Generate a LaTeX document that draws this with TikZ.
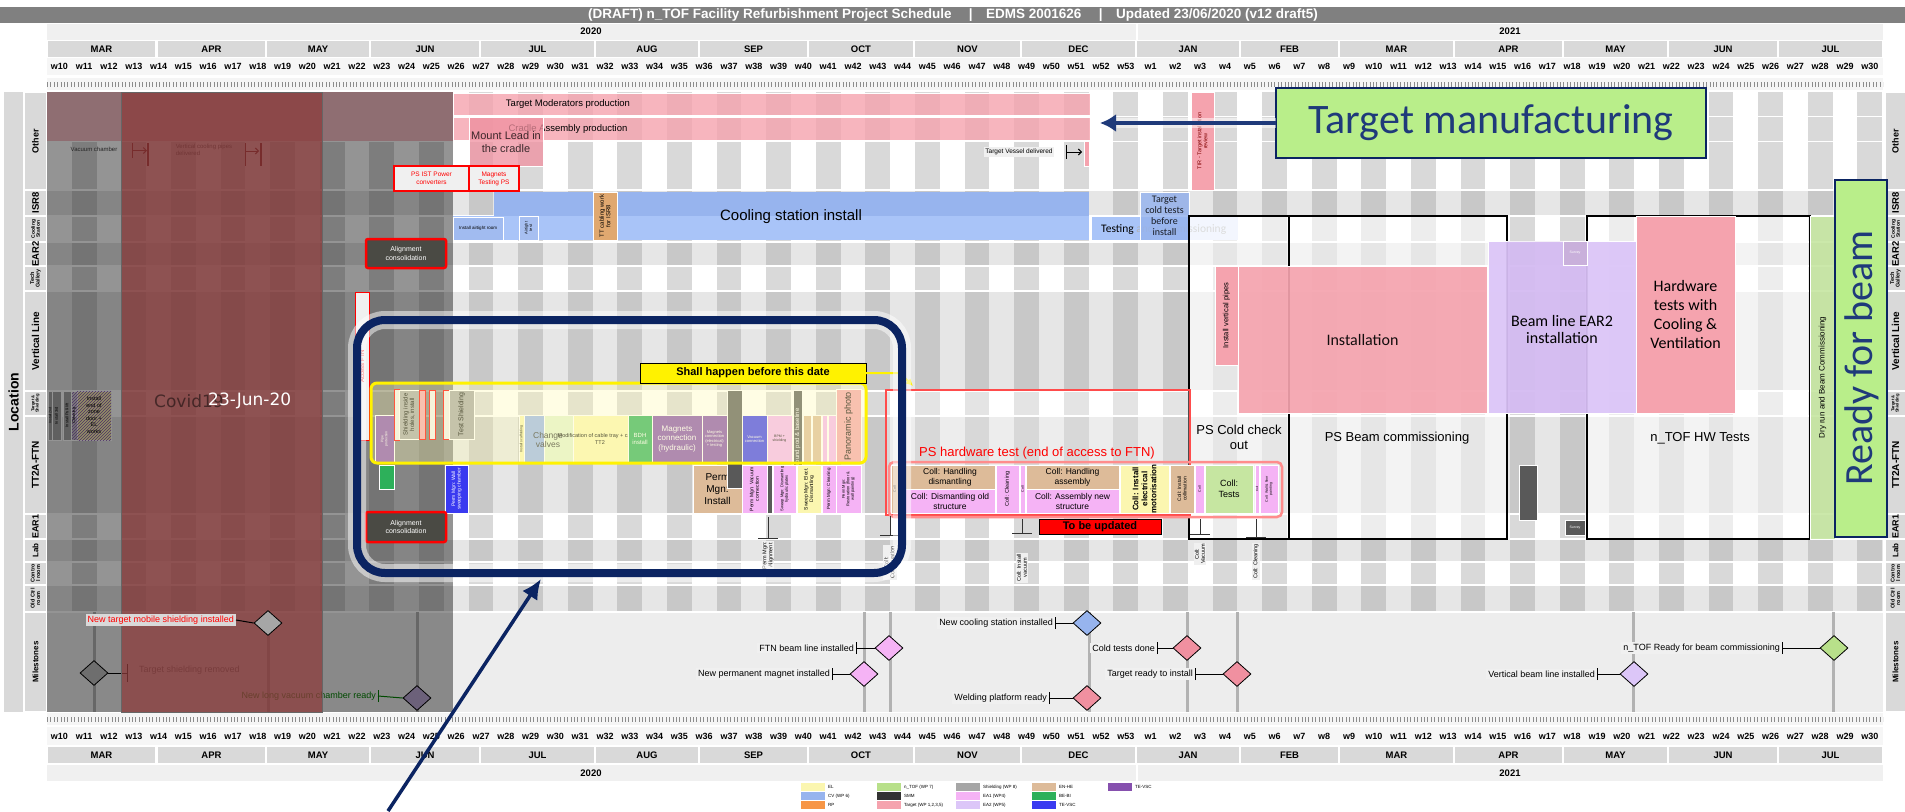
\documentclass[tikz,border=0pt]{standalone}
\usepackage{fontspec}
\setmainfont{Liberation Sans}
\newfontfamily\calfont{Carlito}
\newfontfamily\dvfont{DejaVu Sans}
\usetikzlibrary{shapes.geometric,arrows.meta,patterns}
\definecolor{navy}{HTML}{1F3A7A}
\definecolor{navyd}{HTML}{0B2462}
\definecolor{titlegray}{HTML}{808080}
\definecolor{hdrgray}{HTML}{D9D9D9}
\definecolor{hdrlight}{HTML}{F0F0F0}
\definecolor{stw}{HTML}{D9D9D9}
\definecolor{gba}{HTML}{E6E6E6}
\definecolor{gbb}{HTML}{C8C8C8}
\definecolor{pinkT}{HTML}{F5A3AE}
\definecolor{pinkD}{HTML}{F090A0}
\definecolor{cvblue}{HTML}{97B4EE}
\definecolor{cvlight}{HTML}{A9C4F8}
\definecolor{ea1}{HTML}{F5B3F5}
\definecolor{ea2}{HTML}{DCC6F8}
\definecolor{enhe}{HTML}{DDBB99}
\definecolor{tevsc}{HTML}{3A3AF0}
\definecolor{purp}{HTML}{8650AE}
\definecolor{bebi}{HTML}{2DB05A}
\definecolor{elyel}{HTML}{FBF6B0}
\definecolor{ntof}{HTML}{B8E08A}
\definecolor{callgreen}{HTML}{B9EE8A}
\definecolor{shield}{HTML}{A6A6A6}
\definecolor{dkbox}{HTML}{4A4A44}
\definecolor{rp}{HTML}{F79646}
\definecolor{ttcab}{HTML}{E0A870}
\definecolor{covred}{RGB}{140,60,60}
\newcommand{\fsz}[2]{\fontsize{#1}{#2}\selectfont}
\newcommand{\gbox}[7]{\node[gb,#6,minimum width={(#4)-(#2)},minimum height={(#5)-(#3)}] (#1) at ({((#2)+(#4))/2},{((#3)+(#5))/2}) {#7};}
\newcommand{\rbox}[8]{\node[gb,#6,minimum width={(#4)-(#2)},minimum height={(#5)-(#3)}] (#1) at ({((#2)+(#4))/2},{((#3)+(#5))/2}) {};
  \node[rot,#7] (#1t) at (#1.center) {#8};}
\begin{document}
\begin{tikzpicture}[x=1pt,y=-1pt,
  gb/.style={rectangle,inner sep=0pt,outer sep=0pt,draw=white,line width=0.6pt,align=center,font=\fsz{7}{8}},
  rot/.style={rotate=90,inner sep=0pt,align=center,font=\fsz{5}{6}},
  wk/.style={font=\bfseries\fsz{9}{9},inner sep=0pt},
  mo/.style={font=\bfseries\fsz{9.5}{10},inner sep=0pt},
  msl/.style={fill=hdrlight,inner sep=2pt,font=\fsz{9}{9},anchor=east},
  msd/.style={diamond,draw=black,line width=0.8pt,minimum width=28,minimum height=25,inner sep=0pt},
  mk/.style={line width=1pt},
  lgs/.style={rectangle,minimum width=24,minimum height=7.5,inner sep=0pt},
  lgt/.style={anchor=west,font=\fsz{4.5}{5},inner sep=0pt},
  alc/.style={fill=dkbox,draw=red,line width=2.5pt,rounded corners=2,text=white,font=\fsz{7}{8.5}},
  cpl/.style={fill=hdrlight,inner sep=1pt,font=\fsz{5.5}{6},rotate=90,anchor=east,align=center}]
\useasboundingbox (0,0) rectangle (1905,811);
\fill[white] (0,0) rectangle (1905,811);
% ---------------- title and headers
\fill[titlegray] (0,7) rectangle (1905,23);
\node[font=\bfseries\fsz{13.5}{14},text=white,inner sep=0] (title) at (953,15.5) {(DRAFT) n\_TOF Facility Refurbishment Project Schedule \quad|\quad EDMS 2001626 \quad|\quad Updated 23/06/2020 (v12 draft5)};
\fill[hdrlight] (47,23.5) rectangle (1136,39.5);
\fill[hdrlight] (1138,23.5) rectangle (1883,39.5);
\node[mo] (ty1) at (591,31.5) {2020};
\node[mo] (ty2) at (1510,31.5) {2021};
\fill[hdrlight] (47,765) rectangle (1136,781);
\fill[hdrlight] (1138,765) rectangle (1883,781);
\node[mo] (by1) at (591,773) {2020};
\node[mo] (by2) at (1510,773) {2021};
\foreach \a/\b/\m [count=\k] in {47/156/MAR,157/266/APR,266/370/MAY,370/480/JUN,480/595/JUL,595/699/AUG,699/808/SEP,808/914/OCT,914/1021/NOV,1021/1136/DEC,1136/1240/JAN,1240/1339/FEB,1339/1454/MAR,1454/1563/APR,1563/1668/MAY,1668/1778/JUN,1778/1883/JUL}{
  \fill[hdrgray] ({\a+0.8},40.5) rectangle ({\b-0.8},57);
  \node[mo] (tm\k) at ({(\a+\b)/2},49) {\m};
  \fill[hdrgray] ({\a+0.8},747) rectangle ({\b-0.8},763);
  \node[mo] (bm\k) at ({(\a+\b)/2},755) {\m};
}
\fill[hdrlight!60] (47,58) rectangle (1883,75);
\fill[hdrlight!60] (47,727) rectangle (1883,745);
\foreach \i in {0,...,73}{
  \pgfmathtruncatemacro{\wk}{\i<44 ? \i+10 : \i-43}
  \node[wk] (tw\i) at ({47+24.8*\i+12.4},66.5) {w\wk};
  \node[wk] (bw\i) at ({47+24.8*\i+12.4},736.5) {w\wk};
}
\fill[hdrlight!70] (47,78) rectangle (1883,90);
\fill[hdrlight!70] (47,713) rectangle (1883,725);
\draw[black!45,line width=5pt,dash pattern=on 0.8pt off 2.6pt] (47,84) -- (1883,84);
\draw[black!45,line width=5pt,dash pattern=on 0.8pt off 2.6pt] (47,719) -- (1883,719);
% ---------------- background stripes
\foreach \ya/\yb in {92/190,216/242,266/291,391/416,514/539,562/585}{
  \fill[white] (47,\ya) rectangle (1883,\yb);
  \foreach \i in {1,3,...,73}{\fill[stw] ({47+24.8*\i},\ya) rectangle ({47+24.8*(\i+1)},\yb);}
}
\foreach \ya/\yb in {190/216,242/266,291/391,416/514,539/562,585/612}{
  \fill[gba] (47,\ya) rectangle (1883,\yb);
  \foreach \i in {1,3,...,73}{\fill[gbb] ({47+24.8*\i},\ya) rectangle ({47+24.8*(\i+1)},\yb);}
}
\fill[black!7] (47,612) rectangle (1883,712);
% ---------------- row labels
\fill[hdrgray] (4,92) rectangle (23,712);
\node[rot,font=\bfseries\fsz{14}{14}] (loc) at (13.5,402) {Location};
\foreach \ya/\yb/\t/\f [count=\k] in {92/190/Other/9,190/216/ISR8/9.5,216/242/{Cooling\\Station}/5,242/266/EAR2/9.5,266/291/{Tech\\Gallery}/5.5,291/391/Vertical Line/10,391/416/{Target \&\\Shielding}/4.2,416/514/TT2A-FTN/10,514/539/EAR1/9,539/562/Lab/8,562/585/{Contro\\l room}/5.5,585/612/{Old Ctrl\\room}/5.5,612/712/Milestones/8}{
  \fill[hdrgray] (25,{\ya+0.8}) rectangle (46,{\yb-0.8});
  \fill[hdrgray] (1886,{\ya+0.8}) rectangle (1905,{\yb-0.8});
  \node[rot,font=\bfseries\fsz{\f}{\f}] (ll\k) at (35.5,{(\ya+\yb)/2}) {\t};
  \node[rot,font=\bfseries\fsz{\f}{\f}] (rl\k) at (1895.5,{(\ya+\yb)/2}) {\t};
}
\foreach \y in {190,216,242,266,291,391,416,514,539,562,585,612}{\draw[white,line width=1.2pt] (47,\y) -- (1883,\y);}
\draw[white,line width=1pt] (47,116.5) -- (1883,116.5);
\draw[white,line width=1pt] (47,141) -- (1883,141);
% ---------------- items under covid overlay
\fill[pinkT!70] (47,92) rectangle (453,141);
\node[font=\fsz{6}{6},text=black!75] (vacch) at (94,149) {Vacuum chamber};
\draw[mk,red!40!black] (132,143) -- (132,158);
\draw[mk,red!40!black,-{Straight Barb[length=3pt]}] (132,150.5) -- (147,150.5);
\draw[line width=2pt,red!40!black] (148,143) -- (148,166);
\node[font=\fsz{6}{6.5},text=black!75,align=left] (vcp) at (204,150) {Vertical cooling pipes\\delivered};
\draw[mk,red!40!black] (245,143) -- (245,166);
\draw[mk,red!40!black,-{Straight Barb[length=3pt]}] (245,151) -- (259,151);
\draw[line width=2pt,red!40!black] (261,143) -- (261,166);
\rbox{f1}{48}{391}{52}{440}{fill=shield}{font=\fsz{3.5}{4}}{Install 2nd}
\rbox{f2}{52}{391}{61}{440}{fill=shield}{font=\fsz{4}{4.5}}{Install 3rd}
\rbox{f3}{63}{391}{71}{440}{fill=shield}{font=\fsz{4}{4.5}}{Install Pull-lift}
\rbox{f4}{71}{391}{77}{440}{pattern=north east lines,pattern color=purp}{font=\fsz{4}{4.5}}{Cleaning}
\gbox{f5}{77}{391}{111}{440}{fill=elyel,font=\fsz{5.5}{6.5}}{}
\fill[pattern=north east lines,pattern color=purp] (77,391) rectangle (111,440);
\node[font=\fsz{5.5}{6.5},align=center,inner sep=0] (f5t) at (94,415) {Install\\end of\\zone\\door +\\EL\\works};
\foreach \x in {94,268,417,864,890,1089,1187,1237,1633,1833}{\draw[black!30,line width=3pt] (\x,612) -- (\x,712);}
\node[msd,fill=black!25] (m2d) at (94,673) {};
\node[font=\fsz{9}{9},text=black!60,anchor=west,inner sep=0] (m2l) at (139,670) {Target shielding removed};
\draw[mk] (m2d.east) -- (127,673);
\draw[mk] (127,664) -- (127,682);
\node[msd,fill=ea2!85!black] (m3d) at (417,698) {};
\node[msl,text=green!50!black,fill=none] (m3l) at (378,696) {New long vacuum chamber ready};
\draw[mk,green!50!black] (m3l.east) -- (m3d.west);
\draw[mk,green!50!black] ([yshift=-6pt]m3l.east) -- ([yshift=6pt]m3l.east);
% ---------------- covid overlay
\fill[black,fill opacity=0.42] (47,92) rectangle (453,712);
\fill[covred,fill opacity=0.75] (121,92) rectangle (322,712);
\draw[black!60,line width=0.8pt] (121,92) rectangle (322,712);
\node[font=\dvfont\fsz{17}{17},text=black,text opacity=0.5,anchor=west,inner sep=0] (cov) at (154,401) {Covid19};
\node[font=\dvfont\fsz{17}{17},text=white,anchor=west,inner sep=0] (covd) at (208,401) {23-Jun-20};
% ---------------- Other row
\gbox{tmp}{453}{93}{1090}{115.5}{fill=pinkT,fill opacity=0.8}{}
\node[font=\fsz{9.5}{10},inner sep=0] (tmpt) at (568,104) {Target Moderators production};
\gbox{cap}{453}{117.5}{1090}{140.5}{fill=pinkT,fill opacity=0.8}{}
\node[font=\fsz{9.5}{10},inner sep=0] (capt) at (568,129) {Cradle Assembly production};
\gbox{mlc}{469}{117.5}{543}{166}{fill=pinkD,fill opacity=0.75,font=\fsz{11}{13}}{Mount Lead in\\the cradle}
\node[fill=hdrlight,font=\fsz{6.5}{7},inner sep=1.5pt] (tvd) at (1019,152) {Target Vessel delivered};
\draw[mk] (1066,145) -- (1066,159);
\draw[mk,-{Straight Barb[length=3pt]}] (1066,152) -- (1082,152);
\gbox{tvb}{1084}{141}{1089}{166}{fill=pinkT}{}
\gbox{psi}{394}{166}{469}{191}{fill=hdrlight,draw=red,line width=1.2pt,text=red,font=\fsz{6.5}{8}}{PS IST Power\\converters}
\gbox{mts}{469}{166}{519}{191}{fill=hdrlight,draw=red,line width=1.2pt,text=red,font=\fsz{6.5}{8}}{Magnets\\Testing PS}
\rbox{tir}{1191}{92}{1214}{190}{fill=pinkT}{text=red!50!black,font=\fsz{5.5}{6}}{TIR - Target installation\\review}
% ---------------- ISR8 / Cooling station
\gbox{csa}{494}{192}{1089}{216}{fill=cvblue,draw=none}{}
\gbox{csb}{453}{216}{1089}{240}{fill=cvlight,draw=none}{}
\node[font=\fsz{15}{15},inner sep=0] (cst) at (791,217) {Cooling station install};
\gbox{iar}{453}{217}{503}{240}{fill=cvblue!90,font=\fsz{4.5}{5}}{Install airtight room}
\rbox{att}{519}{216}{538}{240}{fill=cvblue!85}{font=\fsz{4}{4.5}}{Airtight\\test}
\rbox{ttc}{593}{192}{617}{240}{fill=ttcab}{font=\fsz{6}{6.5}}{TT cabling work\\for ISR8}
\gbox{tst}{1091}{216}{1189}{240}{fill=cvlight}{}
\gbox{tstl}{1189}{216}{1238}{240}{fill=cvlight!30,draw=none}{}
\node[anchor=west,font=\calfont\fsz{11.5}{12},inner sep=0] (tstt) at (1101,229) {Testing \textcolor{black!30}{and commissioning}};
\gbox{tct}{1140}{192}{1189}{240}{fill=cvblue,fill opacity=0.85,font=\calfont\fsz{10}{11}}{Target\\cold tests\\before\\install}
% ---------------- EAR2 / vertical line
\gbox{al1}{366}{239}{446}{268}{alc}{Alignment\\consolidation}
\rbox{afn}{355}{292}{369}{440}{fill=hdrlight,draw=red,line width=1pt}{text=red,font=\fsz{6}{6}}{Access FTN}
% ---------------- right frames
\node[gb,draw=black,line width=1.2pt,fill=white,fill opacity=0.55,minimum width=318,minimum height=323] (fr1) at (1348,377.5) {};
\draw[line width=1.2pt] (1289,216) -- (1289,539);
\node[gb,draw=black,line width=1.2pt,fill=white,fill opacity=0.55,minimum width=223,minimum height=323] (fr2) at (1698.5,377.5) {};
\node[font=\fsz{13}{15},align=center,inner sep=0] (pscc) at (1239,437) {PS Cold check\\out};
\node[font=\fsz{13}{15},inner sep=0] (psbc) at (1397,438) {PS Beam commissioning};
\node[font=\fsz{13}{15},inner sep=0] (nhw) at (1700,438) {n\_TOF HW Tests};
\rbox{ivp}{1215}{266}{1238}{365}{fill=pinkT}{font=\fsz{7.5}{8}}{Install vertical pipes}
\gbox{ins}{1238}{266}{1487}{413}{fill=pinkT,fill opacity=0.92,font=\calfont\fsz{16}{17}}{Installation}
\gbox{bl2}{1488}{241}{1636}{413}{fill=ea2,fill opacity=0.95}{}
\fill[purp,fill opacity=0.08] (1507,241) rectangle (1587,413);
\node[font=\calfont\fsz{16}{17},align=center,inner sep=0] (bl2t) at (1562,329) {Beam line EAR2\\installation};
\gbox{sv1}{1563}{241}{1587}{265}{fill=purp!45,font=\fsz{3.5}{4},text=white}{Survey}
\gbox{hwt}{1636}{216}{1735}{413}{fill=pinkT,font=\calfont\fsz{16}{19}}{Hardware\\tests with\\Cooling \&\\Ventilation}
\rbox{dry}{1810}{216}{1835}{539}{fill=ntof!80,fill opacity=0.9}{font=\fsz{8}{8}}{Dry run and Beam Commissioning}
\gbox{dkv}{1519}{465}{1537}{520}{fill=black!65}{}
\gbox{sv2}{1565}{520}{1585}{535}{fill=black!65,font=\fsz{3.5}{4},text=white}{Survey}
% ---------------- PS hardware test and collimator
\node[gb,draw=red!70,line width=1.2pt,fill=white,fill opacity=0.3,minimum width=304,minimum height=125] (psh) at (1038,452.5) {};
\node[text=red,font=\fsz{13}{14},inner sep=0] (psht) at (1037,453) {PS hardware test (end of access to FTN)};
\rbox{c1}{891}{465}{898}{513}{fill=enhe}{font=\fsz{3.5}{4}}{Coll}
\gbox{c2}{905}{465}{995}{489}{fill=enhe,font=\fsz{8.5}{10}}{Coll: Handling\\dismantling}
\gbox{c3}{905}{489}{995}{513}{fill=ea1,font=\fsz{8.5}{10}}{Coll: Dismantling old\\structure}
\rbox{c4}{996}{465}{1019}{513}{fill=ea1}{font=\fsz{5.5}{6}}{Coll: Cleaning}
\rbox{c5}{1020}{465}{1025}{513}{fill=ea1}{font=\fsz{3.5}{4}}{Coll}
\gbox{c6}{1026}{465}{1119}{489}{fill=enhe,font=\fsz{8.5}{10}}{Coll: Handling\\assembly}
\gbox{c7}{1026}{489}{1119}{513}{fill=ea1,font=\fsz{8.5}{10}}{Coll: Assembly new\\structure}
\rbox{c8}{1120}{465}{1169}{513}{fill=elyel}{font=\bfseries\fsz{8}{9}}{Coll: Install\\electrical\\motorisation}
\rbox{c9}{1170}{465}{1194}{513}{fill=enhe}{font=\fsz{5}{5.5}}{Coll: Install\\collimation}
\rbox{c10}{1195}{465}{1204}{513}{fill=ea1}{font=\fsz{3.5}{4}}{Coll}
\gbox{c11}{1205}{465}{1253}{513}{fill=ntof!80,font=\fsz{9}{11}}{Coll:\\Tests}
\rbox{c12}{1255}{465}{1259}{513}{fill=ea1}{font=\fsz{3}{3.5}}{Coll}
\rbox{c13}{1260}{465}{1278}{513}{fill=ea1}{font=\fsz{3.5}{4}}{Coll: Wall \& floor\\painting}
\node[gb,draw=red!45,line width=2.5pt,rounded corners=5,minimum width=393,minimum height=55] (cbox) at (1085.5,489.5) {};
\gbox{tbu}{1039}{519}{1161}{534}{fill=red,draw=black,line width=0.8pt,font=\bfseries\fsz{11}{11}}{To be updated}
% markers below
\foreach \x/\ya/\yb [count=\k] in {890/516/535,1022/519/533,1200/519/534,1256/519/537,768/517/538}{
  \draw[mk,black!80] (\x,\ya) -- (\x,\yb);
  \draw[mk,black!80] ({\x-10},\yb) -- ({\x+10},\yb);
}
\node[cpl] (cl1) at (890,545) {Coll:\\Configuration};
\node[cpl] (cl2) at (1022,553) {Coll: Install\\vacuum};
\node[cpl] (cl3) at (1200,543) {Coll:\\Vacuum};
\node[cpl] (cl4) at (1256,543) {Coll: Cleaning};
\node[cpl] (cl5) at (768,541) {Perm Mgn:\\Alignment};
% ---------------- TT2A items
\rbox{i1}{375}{415}{394}{463}{fill=purp}{text=white,font=\fsz{3.5}{4}}{Pipe\\protection}
\gbox{i2}{394}{389}{399}{440}{fill=hdrlight,draw=red,line width=0.8pt}{}
\rbox{i3}{399}{390}{419}{439}{fill=shield}{font=\fsz{6}{6.5}}{Shielding inside\\holes, install}
\gbox{i4}{419}{390}{425}{439}{fill=pinkT,draw=red,line width=0.8pt}{}
\gbox{i5}{429}{390}{435}{439}{fill=hdrlight,draw=red,line width=0.8pt}{}
\gbox{i6}{443}{390}{449}{439}{fill=hdrlight,draw=red,line width=0.8pt}{}
\rbox{i7}{449}{390}{474}{439}{fill=shield}{font=\fsz{7}{7}}{Test Shielding}
\rbox{i8}{519}{415}{524}{463}{fill=elyel}{font=\fsz{3.5}{4}}{Install scaffolding}
\gbox{i9}{524}{415}{544}{463}{fill=cvblue}{}
\gbox{i10}{544}{415}{573}{463}{fill=ntof!40}{}
\gbox{i11}{573}{415}{628}{463}{fill=elyel}{}
\node[font=\fsz{8.5}{9},align=center,inner sep=0,text=black!80] (i9t) at (548,440) {Change\\valves};
\node[font=\fsz{5.5}{6.5},align=center,inner sep=0] (i11t) at (600,439) {Modification of cable tray + cabling\\TT2};
\gbox{i12}{628}{415}{652}{463}{fill=bebi,text=white,font=\fsz{6}{7}}{BDH\\install}
\gbox{i13}{652}{415}{702}{463}{fill=purp,text=white,font=\fsz{8}{9.5}}{Magnets\\connection\\(hydraulic)}
\gbox{i14}{702}{415}{727}{463}{fill=purp,text=white,font=\fsz{4}{4.5}}{Magnets\\connection\\(electrical)\\+ testing}
\gbox{j3}{693}{465}{742}{513}{fill=enhe,font=\fsz{10}{12}}{Perm\\Mgn:\\Install}
\gbox{i15}{727}{390}{742}{488}{fill=black!65}{}
\gbox{i16}{742}{415}{767}{463}{fill=tevsc,text=white,font=\fsz{4}{4.5}}{Vacuum\\connection}
\gbox{i17}{767}{415}{792}{463}{fill=ea1,font=\fsz{3.5}{4}}{BPM +\\shielding}
\rbox{i18}{793}{390}{802}{488}{fill=black!65}{text=white,font=\fsz{6}{6}}{Ground pod \& baseline}
\gbox{i19}{803}{415}{811}{463}{fill=enhe}{}
\gbox{i20}{812}{415}{821}{463}{fill=enhe}{}
\gbox{i21}{822}{415}{827}{463}{fill=ea1}{}
\gbox{i22}{828}{415}{836}{463}{fill=ea1}{}
\rbox{i23}{836}{389}{861}{463}{fill=pinkT}{font=\fsz{9}{9}}{Panoramic photo}
\gbox{j1}{379}{465}{394}{489}{fill=bebi}{}
\rbox{j2}{445}{465}{468}{513}{fill=tevsc}{text=white,font=\fsz{5}{5.5}}{Perm Mgn: Wall\\sweeping chamber}
\rbox{j4}{742}{465}{767}{513}{fill=ea1}{font=\fsz{5}{5.5}}{Perm Mgn: Vacuum\\connection}
\gbox{j5}{767}{465}{772}{513}{fill=black!65}{}
\rbox{j6}{773}{465}{796}{513}{fill=ea1}{font=\fsz{4}{4.5}}{Sweep Mgn: Dismantling\\hydraulic plates}
\rbox{j7}{797}{465}{821}{513}{fill=elyel}{font=\fsz{5}{5.5}}{Sweep Mgn: Elect.\\Dismantling}
\rbox{j8}{822}{465}{836}{513}{fill=ea1}{font=\fsz{4.5}{5}}{Perm Mgn: Cleaning}
\rbox{j9}{836}{465}{861}{513}{fill=ea1}{font=\fsz{4}{4.5}}{Perm Mgn:\\Restoration (floor \&\\wall painting)}
\gbox{yfr}{371}{383}{866}{463}{rounded corners=6,draw=yellow,line width=3pt,fill=yellow!30,fill opacity=0.35}{}
\gbox{shb}{640}{363}{866}{383}{fill=yellow,draw=black,line width=0.8pt,font=\bfseries\fsz{11}{11}}{Shall happen before this date}
\coordinate (sh1) at (900,373);
\coordinate (sh2) at (913,386);
\draw[yellow,line width=2pt,-{Latex[length=7pt,width=7pt]}] (shb.east) -- (sh1) -- (sh2);
\gbox{al2}{366}{512}{446}{542}{alc}{Alignment\\consolidation}
% ---------------- milestones (bright)
\node[msd,fill=black!35] (m1d) at (268,623) {};
\node[msl,text=red,fill=black!15] (m1l) at (236,620) {New target mobile shielding installed};
\draw[mk] (m1l.east) -- (m1d.west);
\foreach \l/\d/\xl/\xd/\y/\c/\t in {m4l/m4d/856/889/648/ea1/FTN beam line installed, m5l/m5d/832/864/674/ea1/New permanent magnet installed, m6l/m6d/1055/1087/623/cvblue/New cooling station installed, m7l/m7d/1157/1187/648/pinkD/Cold tests done, m8l/m8d/1195/1237/674/pinkD/Target ready to install, m9l/m9d/1049/1087/698/pinkD/Welding platform ready, m10l/m10d/1597/1634/674/ea2/Vertical beam line installed, m11l/m11d/1782/1834/648/ntof/n\_TOF Ready for beam commissioning}{
  \node[msd,fill=\c] (\d) at (\xd,\y) {};
  \node[msl] (\l) at (\xl,\y) {\t};
  \draw[mk] (\l.east) -- (\d.west);
  \draw[mk] ([yshift=-6pt]\l.east) -- ([yshift=6pt]\l.east);
}
% ---------------- legend
\foreach \xs/\ys/\c/\t [count=\k] in {801/783/elyel/EL, 801/792/cvblue/CV (WP 6), 801/801/rp/RP, 877/783/ntof/n\_TOF (WP 7), 877/792/black!80/SMM, 877/801/pinkT/{Target (WP 1,2,3,5)}, 956/783/shield/Shielding (WP 8), 956/792/ea1/EA1 (WP4), 956/801/ea2/EA2 (WP5), 1032/783/enhe/EN-HE, 1032/792/bebi/BE-BI, 1032/801/tevsc/TE-VSC, 1108/783/purp/TE-VSC}{
  \node[lgs,fill=\c] (lg\k) at ({\xs+12},{\ys+4}) {};
  \node[lgt] (lgt\k) at ({\xs+27},{\ys+4}) {\t};
}
% ---------------- callouts
\gbox{tmf}{1276}{88}{1706}{158}{fill=callgreen,draw=navyd,line width=2pt,font=\calfont\fsz{42}{42},text=navy}{Target manufacturing}
\coordinate (tmend) at (1100,123);
\draw[white,opacity=0.5,line width=10pt] (tmf.west) -- (tmend);
\draw[navy,line width=4pt,-{Latex[length=16pt,width=18pt]}] (tmf.west) -- (tmend);
\gbox{rfb}{1835}{180}{1887}{537}{fill=callgreen,draw=navyd,line width=1.5pt}{}
\node[rot,font=\calfont\fsz{40}{40},text=navy] (rfbt) at (1862,358) {Ready for beam};
\node[draw=white,opacity=0.5,line width=18pt,rounded corners=28,minimum width=545,minimum height=253,inner sep=0] (bfg) at (629.5,446.5) {};
\node[draw=navyd,line width=8pt,rounded corners=28,minimum width=545,minimum height=253,inner sep=0] (bf) at (629.5,446.5) {};
\coordinate (ars) at (388,811);
\coordinate (are) at (541,579);
\draw[navyd,line width=3.5pt,-{Latex[length=20pt,width=18pt]}] (ars) -- (are);
\end{tikzpicture}
\end{document}
